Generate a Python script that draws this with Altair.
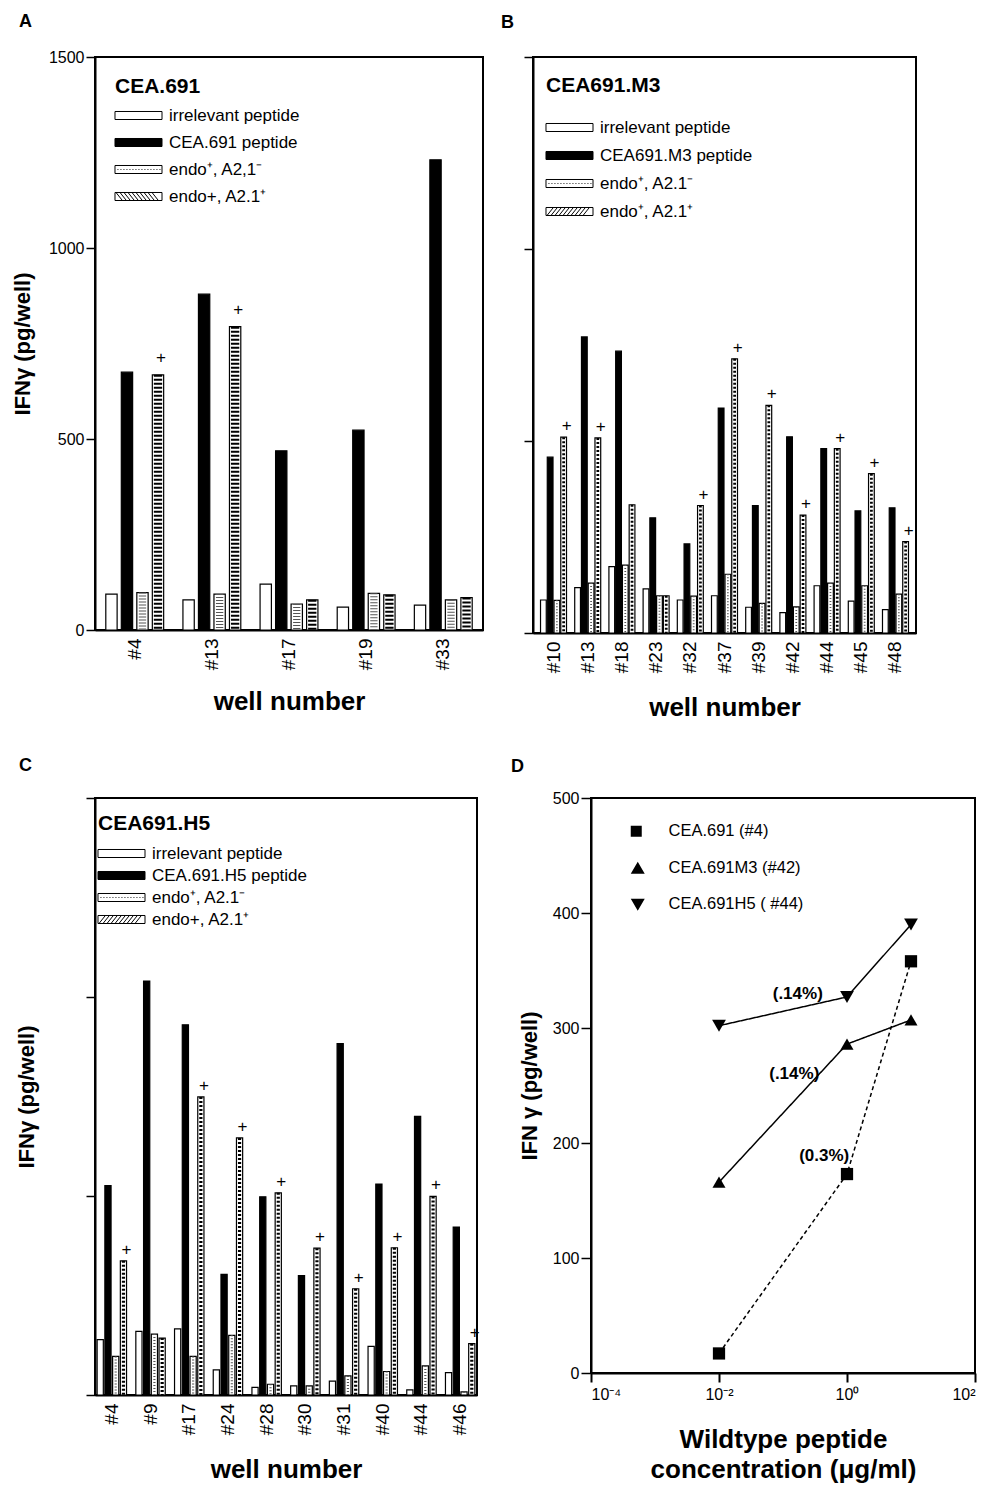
import altair as alt
import pandas as pd

FONT = "Liberation Sans"

# ---------------- Panel A ----------------
A_WELLS = ["#4", "#13", "#17", "#19", "#33"]
A_IRRELEVANT = [94, 79, 120, 60, 65]
A_PEPTIDE = [675, 879, 469, 523, 1231]
A_ENDO_NEG = [98, 94, 68, 96, 79]
A_ENDO_POS = [668, 794, 79, 92, 85]
A_PLUS = [True, True, False, False, False]
A_LABELS = ["irrelevant peptide", "CEA.691 peptide", "endo⁺, A2,1⁻", "endo+, A2.1⁺"]

# ---------------- Panel B ----------------
B_WELLS = ["#10", "#13", "#18", "#23", "#32", "#37", "#39", "#42", "#44", "#45", "#48"]
B_IRRELEVANT = [86, 118, 173, 115, 86, 97, 67, 53, 123, 83, 61]
B_PEPTIDE = [458, 771, 734, 300, 232, 586, 332, 511, 480, 318, 326]
B_ENDO_NEG = [85, 130, 177, 97, 96, 153, 77, 68, 130, 123, 101]
B_ENDO_POS = [510, 508, 334, 97, 332, 714, 593, 307, 480, 415, 238]
B_PLUS = [True, True, False, False, True, True, True, True, True, True, True]
B_LABELS = ["irrelevant peptide", "CEA691.M3 peptide", "endo⁺, A2.1⁻", "endo⁺, A2.1⁺"]

# ---------------- Panel C ----------------
C_WELLS = ["#4", "#9", "#17", "#24", "#28", "#30", "#31", "#40", "#44", "#46"]
C_IRRELEVANT = [139, 160, 166, 63, 19, 23, 35, 122, 13, 56]
C_PEPTIDE = [526, 1040, 930, 303, 498, 300, 883, 530, 700, 422]
C_ENDO_NEG = [97, 153, 97, 150, 27, 23, 48, 59, 73, 8]
C_ENDO_POS = [337, 143, 749, 646, 508, 369, 267, 370, 499, 129]
C_PLUS = [True, False, True, True, True, True, True, True, True, True]
C_LABELS = ["irrelevant peptide", "CEA.691.H5 peptide", "endo⁺, A2.1⁻", "endo+, A2.1⁺"]

# ---------------- Panel D ----------------
D_CONC = [0.01, 1, 10]
D_SERIES = ["CEA.691 (#4)", "CEA.691M3 (#42)", "CEA.691H5 ( #44)"]
D_CEA691 = [17, 173, 358]
D_M3 = [166, 286, 307]
D_H5 = [302, 327, 390]
D_NOTE_TEXT = ["(.14%)", "(.14%)", "(0.3%)"]
D_NOTE_X = [0.17, 0.15, 0.44]
D_NOTE_Y = [330, 260, 189]

Y_TICKS = [0, 500, 1000, 1500]
Y_TITLE = "IFNγ (pg/well)"

# ---------- legend swatch paths (symbolSize 144 -> 6 px per path unit) ----------
U = 6.0
SYM_OFF = 8.5  # legend places the symbol centre at half of the entry offset


def _px(x):
    return (x - SYM_OFF) / U


def _py(y):
    return y / U


def rect_path(w, h):
    return (f"M{_px(0):.3f},{_py(-h / 2):.3f}H{_px(w):.3f}V{_py(h / 2):.3f}"
            f"H{_px(0):.3f}Z")


def dotted_path(w, h):
    parts = [rect_path(w, h)]
    x = 2.5
    while x < w - 1.5:
        parts.append(f"M{_px(x):.3f},0H{_px(x + 0.9):.3f}")
        x += 3.0
    return "".join(parts)


def hatch_path(w, h, step, back):
    parts = [rect_path(w, h)]
    dx = h * 0.8
    x = 1.0
    while x + dx <= w:
        if back:
            parts.append(f"M{_px(x):.3f},{_py(-h / 2):.3f}L{_px(x + dx):.3f},{_py(h / 2):.3f}")
        else:
            parts.append(f"M{_px(x):.3f},{_py(h / 2):.3f}L{_px(x + dx):.3f},{_py(-h / 2):.3f}")
        x += step
    return "".join(parts)


def line_marker_path(w, dashed, marker):
    parts = []
    c = w / 2
    if dashed:
        for a, b in [(0, 4), (7, 11), (w - 11, w - 7), (w - 4, w)]:
            parts.append(f"M{_px(a):.3f},0H{_px(b):.3f}")
    else:
        parts.append(f"M{_px(0):.3f},0H{_px(w):.3f}")
    if marker == "square":
        s = 5.5
        parts.append(f"M{_px(c - s):.3f},{_py(-s):.3f}H{_px(c + s):.3f}V{_py(s):.3f}H{_px(c - s):.3f}Z")
    elif marker == "up":
        parts.append(f"M{_px(c):.3f},{_py(-6.5):.3f}L{_px(c + 7):.3f},{_py(5.5):.3f}H{_px(c - 7):.3f}Z")
    else:
        parts.append(f"M{_px(c - 7):.3f},{_py(-5.5):.3f}H{_px(c + 7):.3f}L{_px(c):.3f},{_py(6.5):.3f}Z")
    return "".join(parts)


def bar_panel(wells, irr, pep, neg, pos, plus, labels, legend_title, W, H,
              pi, po, opi, y_labels, y_title, y_title_pad, x_title_pad,
              lx, ly, row_pad, title_pad, back_hatch, plus_dy, letter, letter_dx,
              letter_offset):
    rows = []
    for i, w in enumerate(wells):
        for cond, vals in zip(labels, [irr, pep, neg, pos]):
            rows.append({"well": w, "cond": cond, "value": vals[i],
                         "plus": bool(cond == labels[3] and plus[i])})
    df = pd.DataFrame(rows)

    n = len(wells)
    step = W / (n - pi + 2 * po)
    band = step * (1 - pi)
    ostep = band / (4 - opi)
    bw = ostep * (1 - opi)

    x_enc = alt.X(
        "well:N", sort=wells,
        scale=alt.Scale(domain=wells, paddingInner=pi, paddingOuter=po),
        axis=alt.Axis(title="well number", labelAngle=270, ticks=False,
                      labelFontSize=19, labelPadding=8, titleFontSize=26,
                      titleFontWeight="bold", titlePadding=x_title_pad,
                      domainWidth=2),
    )
    xo_enc = alt.XOffset("cond:N", sort=labels,
                         scale=alt.Scale(domain=labels, paddingInner=opi, paddingOuter=0))
    y_axis_kw = dict(values=Y_TICKS, labels=y_labels, grid=False, tickSize=9,
                     tickWidth=1.5, labelFontSize=16, labelPadding=2, format="d",
                     titleFontSize=22, titleFontWeight="bold",
                     titlePadding=y_title_pad, domainWidth=2)
    y_axis_kw["title"] = Y_TITLE if y_title else None
    y_enc = alt.Y("value:Q", scale=alt.Scale(domain=[0, 1500], nice=False),
                  axis=alt.Axis(**y_axis_kw))

    base = alt.Chart(df)
    bars = base.mark_bar(stroke="black", strokeWidth=1.2).encode(
        x=x_enc, xOffset=xo_enc, y=y_enc,
        fill=alt.condition(alt.datum.cond == labels[1], alt.value("black"), alt.value("white")),
    )
    dots = base.transform_filter(alt.datum.cond == labels[2]).mark_rule(
        strokeDash=[1, 2], strokeWidth=max(bw - 4, 1), color="#555555"
    ).encode(x=x_enc, xOffset=xo_enc, y=alt.Y("value:Q"), y2=alt.datum(0))
    hatch = base.transform_filter(alt.datum.cond == labels[3]).mark_rule(
        strokeDash=[2, 2], strokeWidth=max(bw - 3, 1), color="black"
    ).encode(x=x_enc, xOffset=xo_enc, y=alt.Y("value:Q"), y2=alt.datum(0))
    pluses = base.transform_filter("datum.plus").mark_text(
        text="+", fontSize=17, dy=plus_dy, dx=3, baseline="middle", fill="black"
    ).encode(x=x_enc, xOffset=xo_enc, y=alt.Y("value:Q"))

    sw, sh = 47, 8
    paths = [rect_path(sw, sh), rect_path(sw, sh), dotted_path(sw, sh),
             hatch_path(sw, sh, 4.0, back_hatch)]
    leg = alt.Legend(title=legend_title, orient="none", legendX=lx, legendY=ly,
                     titleFontSize=21, titleFontWeight="bold", titleColor="black",
                     titlePadding=title_pad, labelFontSize=17, labelColor="black",
                     labelOffset=37, rowPadding=row_pad, symbolSize=144,
                     symbolStrokeWidth=1, padding=0, symbolOpacity=1)
    legend_layer = base.transform_filter("false").mark_point(
        filled=True, opacity=1, strokeWidth=1
    ).encode(
        x=x_enc, xOffset=xo_enc, y=alt.Y("value:Q"),
        fill=alt.Fill("cond:N", scale=alt.Scale(domain=labels,
                      range=["white", "black", "white", "white"]), legend=leg),
        stroke=alt.Stroke("cond:N", scale=alt.Scale(domain=labels,
                          range=["black", "black", "black", "black"]), legend=leg),
        shape=alt.Shape("cond:N", scale=alt.Scale(domain=labels, range=paths), legend=leg),
    )
    return alt.layer(bars, dots, hatch, pluses, legend_layer).properties(
        width=W, height=H,
        title=alt.TitleParams(letter, anchor="start", frame="group", fontSize=18,
                              fontWeight="bold", dx=letter_dx, offset=letter_offset,
                              color="black"),
    )


panel_a = bar_panel(A_WELLS, A_IRRELEVANT, A_PEPTIDE, A_ENDO_NEG, A_ENDO_POS, A_PLUS,
                    A_LABELS, "CEA.691", 388, 573, 0.25, 0.14, 0.27,
                    True, True, 14, 19, 20, 19, 9, 10, True, -17, "A", -76, 18)
panel_b = bar_panel(B_WELLS, B_IRRELEVANT, B_PEPTIDE, B_ENDO_NEG, B_ENDO_POS, B_PLUS,
                    B_LABELS, "CEA691.M3", 383, 576, 0.24, 0.22, 0.15,
                    False, False, 10, 22, 13, 18, 10, 23, False, -11, "B", -32, 24)
panel_c = bar_panel(C_WELLS, C_IRRELEVANT, C_PEPTIDE, C_ENDO_NEG, C_ENDO_POS, C_PLUS,
                    C_LABELS, "CEA691.H5", 382, 597, 0.24, 0.055, 0.2,
                    False, True, 47, 22, 3, 15, 4, 11, False, -11, "C", -76, 22)

# ---------------- Panel D chart ----------------
d_rows = []
for s, vals in zip(D_SERIES, [D_CEA691, D_M3, D_H5]):
    for c, v in zip(D_CONC, vals):
        d_rows.append({"conc": c, "value": v, "series": s})
df_d = pd.DataFrame(d_rows)
df_notes = pd.DataFrame({"conc": D_NOTE_X, "value": D_NOTE_Y, "note": D_NOTE_TEXT})

dx_enc = alt.X("conc:Q", scale=alt.Scale(type="log", domain=[1e-4, 1e2]),
               axis=alt.Axis(values=[1e-4, 1e-2, 1, 100],
                             labelExpr="datum.value < 0.001 ? '10⁻⁴' : datum.value < 0.1 ? '10⁻²' : datum.value < 10 ? '10⁰' : '10²'",
                             tickSize=9, tickWidth=2, labelFontSize=16, labelPadding=4,
                             grid=False, domainWidth=2,
                             title=["Wildtype peptide", "concentration (μg/ml)"],
                             titleFontSize=26, titleFontWeight="bold", titlePadding=24,
                             titleLineHeight=30))
dy_enc = alt.Y("value:Q", scale=alt.Scale(domain=[0, 500], nice=False),
               axis=alt.Axis(values=[0, 100, 200, 300, 400, 500], tickSize=10, tickWidth=1.5,
                             labelFontSize=16, labelPadding=2, grid=False, domainWidth=2,
                             title="IFN γ (pg/well)", titleFontSize=22,
                             titleFontWeight="bold", titlePadding=11))

d_lines = alt.Chart(df_d).mark_line(color="black", strokeWidth=1.5).encode(
    x=dx_enc, y=dy_enc, detail="series:N",
    strokeDash=alt.StrokeDash("series:N", scale=alt.Scale(domain=D_SERIES,
                              range=[[4, 3], [1, 0], [1, 0]]), legend=None),
)
d_points = alt.Chart(df_d).mark_point(filled=True, color="black", opacity=1).encode(
    x=dx_enc, y=dy_enc,
    shape=alt.Shape("series:N", scale=alt.Scale(domain=D_SERIES,
                    range=["square", "triangle-up", "triangle-down"]), legend=None),
    size=alt.Size("series:N", scale=alt.Scale(domain=D_SERIES, range=[150, 190, 190]),
                  legend=None),
)
d_notes = alt.Chart(df_notes).mark_text(fontSize=17, fontWeight="bold", fill="black").encode(
    x=dx_enc, y=dy_enc, text="note:N"
)
d_paths = [line_marker_path(49, True, "square"), line_marker_path(52, False, "up"),
           line_marker_path(52, False, "down")]
d_leg = alt.Legend(title=None, orient="none", legendX=21, legendY=25, labelFontSize=16.5,
                   labelColor="black", labelOffset=40, rowPadding=19, symbolSize=144,
                   symbolStrokeWidth=1.3, padding=0, symbolOpacity=1)
d_legend = alt.Chart(df_d).transform_filter("false").mark_point(
    filled=True, opacity=1, strokeWidth=1.3
).encode(
    x=dx_enc, y=dy_enc,
    shape=alt.Shape("series:N", scale=alt.Scale(domain=D_SERIES, range=d_paths), legend=d_leg),
    fill=alt.Fill("series:N", scale=alt.Scale(domain=D_SERIES, range=["black"] * 3), legend=d_leg),
    stroke=alt.Stroke("series:N", scale=alt.Scale(domain=D_SERIES, range=["black"] * 3),
                      legend=d_leg),
)
panel_d = alt.layer(d_lines, d_points, d_notes, d_legend).resolve_scale(
    shape="independent", size="independent"
).properties(
    width=384, height=575,
    title=alt.TitleParams("D", anchor="start", frame="group", fontSize=18,
                          fontWeight="bold", dx=-80, offset=14, color="black"),
)

RESOLVE = dict(fill="independent", stroke="independent", shape="independent",
               strokeDash="independent", size="independent", xOffset="independent")

row1 = alt.hconcat(panel_a, panel_b, spacing=16).resolve_scale(**RESOLVE)
row2 = alt.hconcat(panel_c, panel_d, spacing=29).resolve_scale(**RESOLVE)
chart = alt.vconcat(row1, row2, spacing=34).resolve_scale(**RESOLVE).properties(
    padding={"left": 2, "top": 4, "right": 0, "bottom": 0}
).configure(font=FONT).configure_view(
    stroke="black", strokeWidth=2
).configure_axis(
    labelColor="black", titleColor="black", domainColor="black", tickColor="black",
    labelFont=FONT, titleFont=FONT
).configure_legend(labelFont=FONT, titleFont=FONT).configure_title(font=FONT)

chart.save("out.html", embed_options={"renderer": "svg", "actions": False})
